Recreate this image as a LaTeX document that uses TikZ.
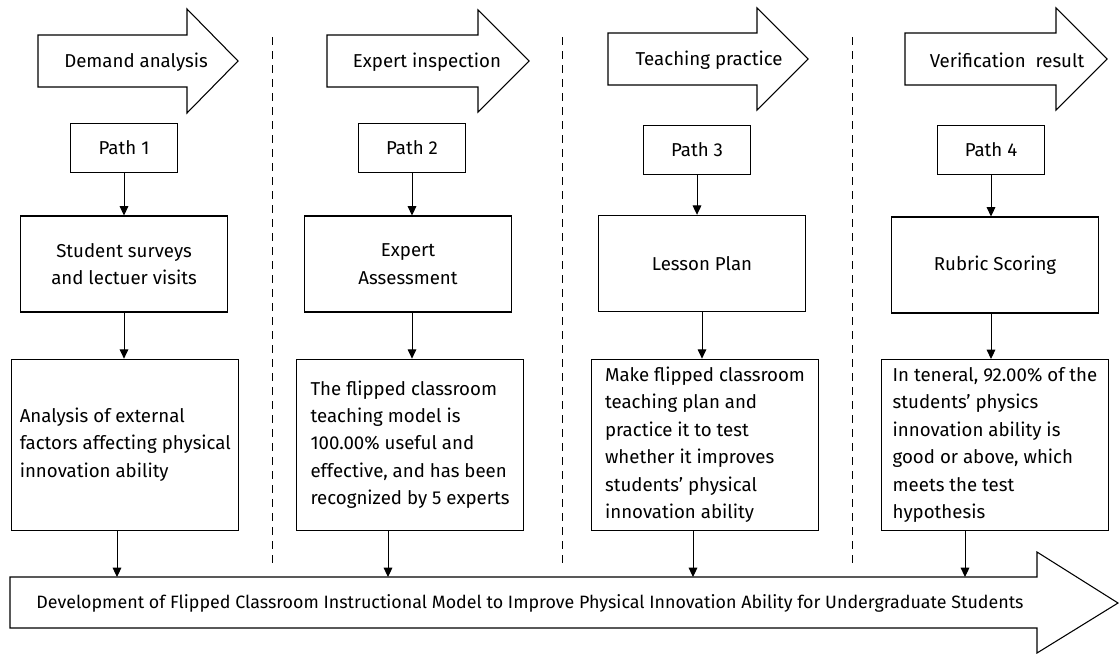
\documentclass[tikz,border=0pt]{standalone}
\usepackage{fontspec}
\setmainfont{Fira Sans}
\usepackage{tikz}
\usetikzlibrary{positioning,arrows.meta}
\tikzstyle{stage}=[draw, fill=white, thick]
\tikzstyle{pathbox}=[draw, minimum height = 36.75pt, minimum width=80pt, thick]
\tikzstyle{midbox}=[draw, minimum height = 72pt, minimum width=155.25pt, align=center, thick]
\tikzstyle{resbox}=[draw, minimum height = 128.25pt, minimum width=170.25pt, align=left, inner sep=2pt, thick]
\tikzstyle{conn}=[->, line width = 0.75pt]
\begin{document}
\begin{tikzpicture}[x=0.75pt,y=-0.75pt,>={Triangle[length=7pt,width=6.5pt]},font=\fontsize{14}{20.6}\selectfont]
\useasboundingbox (0,0) rectangle (1119,654);

% stage arrows on top
\draw[stage] (38,35) -- (187,35) -- (187,9) -- (238,61) -- (187,113) -- (187,87) -- (38,87) -- cycle;
\node at (136,62) (demand) {Demand analysis};
\draw[stage] (327,35) -- (478,35) -- (478,10) -- (529,61) -- (478,112) -- (478,87) -- (327,87) -- cycle;
\node at (427,62) (expert) {Expert inspection};
\draw[stage] (608,33) -- (757,33) -- (757,8) -- (808,59) -- (757,110) -- (757,85) -- (608,85) -- cycle;
\node at (709,60) (teaching) {Teaching practice};
\draw[stage] (905,33) -- (1056,33) -- (1056,8) -- (1107,59) -- (1056,110) -- (1056,85) -- (905,85) -- cycle;
\node at (1007,60) (verify) {Verification\ \ result};

% separators
\draw[dashed, dash pattern=on 6pt off 4.5pt, line width=0.75pt] (272,37) -- (272,565);
\draw[dashed, dash pattern=on 6pt off 4.5pt, line width=0.75pt] (562,37) -- (562,565);
\draw[dashed, dash pattern=on 6pt off 4.5pt, line width=0.75pt] (852,37) -- (852,565);

% column 1
\node[pathbox] at (124,148) (path1) {Path 1};
\node[midbox, below of = path1, node distance = 87pt] (survey) {Student surveys\\and lectuer visits};
\node[resbox, below of = survey, node distance = 135.5pt, xshift=1pt] (external) {Analysis of external\\factors affecting physical\\innovation ability};
\draw[conn] (path1) -- (survey);
\draw[conn] (survey.south) -- (survey.south |- external.north);

% column 2
\node[pathbox] at (412,148) (path2) {Path 2};
\node[midbox, below of = path2, node distance = 87pt, xshift=-3pt] (assess) {Expert\\Assessment};
\node[resbox, below of = assess, node distance = 135.5pt, xshift=1.5pt] (useful) {The flipped classroom\\teaching model is\\100.00\% useful and\\effective, and has been\\recognized by 5 experts};
\draw[conn] (path2.south) -- (path2.south |- assess.north);
\draw[conn] (path2.south |- assess.south) -- (path2.south |- useful.north);

% column 3
\node[pathbox] at (697,150) (path3) {Path 3};
\node[midbox, below of = path3, node distance = 85pt, xshift=3.75pt] (lesson) {Lesson Plan};
\node[resbox, below of = lesson, node distance = 136pt, xshift=2.25pt] (practice) {Make flipped classroom\\teaching plan and\\practice it to test\\whether it improves\\students’ physical\\innovation ability};
\draw[conn] (path3.south) -- (path3.south |- lesson.north);
\draw[conn] (lesson.south) -- (lesson.south |- practice.north);

% column 4
\node[pathbox] at (991,150) (path4) {Path 4};
\node[midbox, below of = path4, node distance = 86.25pt, xshift=3pt] (rubric) {Rubric Scoring};
\node[resbox, below of = rubric, node distance = 135pt] (hypo) {In teneral, 92.00\% of the\\students’ physics\\innovation ability is\\good or above, which\\meets the test\\hypothesis};
\draw[conn] (path4.south) -- (path4.south |- rubric.north);
\draw[conn] (path4.south |- rubric.south) -- (path4.south |- hypo.north);

% final arrow
\draw[stage] (10,577) -- (1037,577) -- (1037,552) -- (1118,603) -- (1037,653) -- (1037,628) -- (10,628) -- cycle;
\node[font=\fontsize{13.4}{20.6}\selectfont] at (530,603) (devel) {Development of Flipped Classroom Instructional Model to Improve Physical Innovation Ability for Undergraduate Students};
\coordinate (in1) at (117,577);
\coordinate (in2) at (388,577);
\coordinate (in3) at (693,577);
\coordinate (in4) at (965,577);
\draw[conn] (external.south -| in1) -- (in1);
\draw[conn] (useful.south -| in2) -- (in2);
\draw[conn] (practice.south -| in3) -- (in3);
\draw[conn] (hypo.south -| in4) -- (in4);
\end{tikzpicture}
\end{document}
